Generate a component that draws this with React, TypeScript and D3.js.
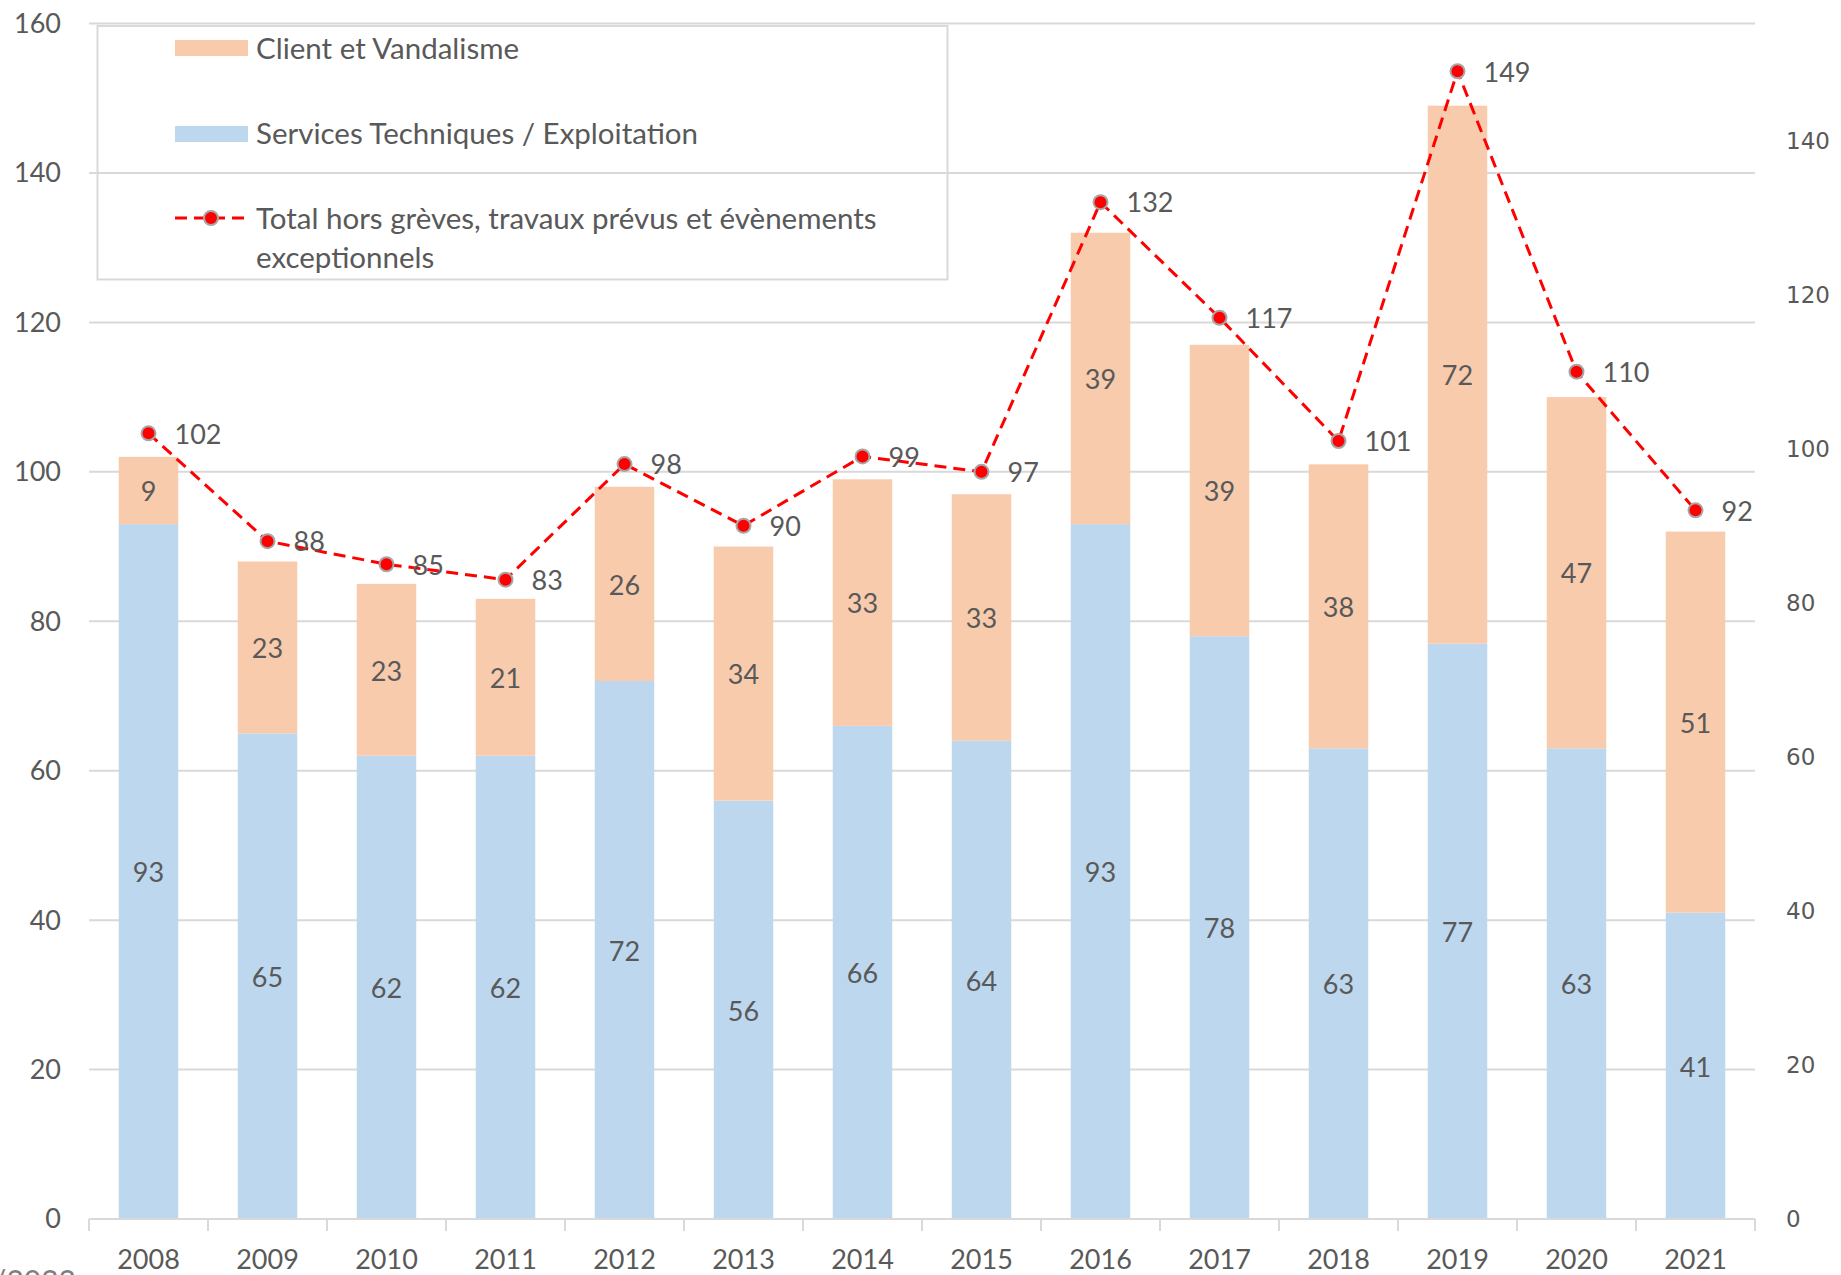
import React from "react";
import * as d3 from "d3";

const years = ["2008","2009","2010","2011","2012","2013","2014","2015","2016","2017","2018","2019","2020","2021"];
const services = [93, 65, 62, 62, 72, 56, 66, 64, 93, 78, 63, 77, 63, 41];
const clients = [9, 23, 23, 21, 26, 34, 33, 33, 39, 39, 38, 72, 47, 51];
const totals = [102, 88, 85, 83, 98, 90, 99, 97, 132, 117, 101, 149, 110, 92];
const leftTicks = [0, 20, 40, 60, 80, 100, 120, 140, 160];
const rightTicks = [0, 20, 40, 60, 80, 100, 120, 140];
const legendLabels = ["Client et Vandalisme", "Services Techniques / Exploitation", "Total hors grèves, travaux prévus et évènements", "exceptionnels"];

const W = 1841, H = 1275;
const X0 = 89, X1 = 1755, YB = 1219, YT = 23.5;
const BLUE = "#BDD7EE", ORANGE = "#F8CBAD", GRID = "#d9d9d9", TXT = "#595959";
const FONT = "Lato, 'Open Sans', sans-serif";
const FS = 27;

export default function App() {
  const x = d3.scaleBand<string>().domain(years).range([X0, X1]).paddingInner(0.5).paddingOuter(0.25);
  const yL = d3.scaleLinear().domain([0, 160]).range([YB, YT]);
  const yR = d3.scaleLinear().domain([0, 155.2]).range([YB, YT]);
  const step = x.step();
  const bw = x.bandwidth();
  const cx = (y: string) => (x(y) as number) + bw / 2;
  const linePts: [number, number][] = years.map((y, i) => [cx(y), yR(totals[i])]);
  const line = d3.line()(linePts) as string;

  return (
    <svg width={W} height={H} style={{ position: "absolute", left: 0, top: 0, background: "#fff" }}>
      <rect x={0} y={0} width={W} height={H} fill="#fff" />
      {leftTicks.filter(t => t > 0).map(t => (
        <line key={"g" + t} x1={X0} x2={X1} y1={yL(t)} y2={yL(t)} stroke={GRID} strokeWidth={2} />
      ))}
      {years.map((y, i) => (
        <g key={"b" + y}>
          <rect x={x(y)} y={yL(services[i])} width={bw} height={yL(0) - yL(services[i])} fill={BLUE} />
          <rect x={x(y)} y={yL(services[i] + clients[i])} width={bw} height={yL(services[i]) - yL(services[i] + clients[i])} fill={ORANGE} />
          <text x={cx(y)} y={yL(services[i] / 2)} dy="0.4em" textAnchor="middle" fontSize={FS} fontFamily={FONT} fill={TXT}>{services[i]}</text>
          <text x={cx(y)} y={yL(services[i] + clients[i] / 2)} dy="0.4em" textAnchor="middle" fontSize={FS} fontFamily={FONT} fill={TXT}>{clients[i]}</text>
        </g>
      ))}
      <line x1={X0} x2={X1} y1={YB} y2={YB} stroke={GRID} strokeWidth={2} />
      {d3.range(years.length + 1).map(i => (
        <line key={"t" + i} x1={X0 + i * step} x2={X0 + i * step} y1={YB} y2={YB + 12} stroke={GRID} strokeWidth={2} />
      ))}
      {years.map(y => (
        <text key={"yl" + y} x={cx(y)} y={1269} textAnchor="middle" fontSize={FS} fontFamily={FONT} fill={TXT}>{y}</text>
      ))}
      {leftTicks.map(t => (
        <text key={"lt" + t} x={61} y={yL(t)} dy="0.35em" textAnchor="end" fontSize={FS} fontFamily={FONT} fill={TXT}>{t}</text>
      ))}
      {rightTicks.map(t => (
        <text key={"rt" + t} x={1786} y={yR(t)} dy="0.35em" textAnchor="start" fontSize={23} fontFamily="'DejaVu Sans', sans-serif" fill={TXT}>{t}</text>
      ))}
      <path d={line} fill="none" stroke="#FF0000" strokeWidth={3} strokeDasharray="12 7" />
      {linePts.map((p, i) => (
        <g key={"m" + i}>
          <circle cx={p[0]} cy={p[1]} r={7} fill="#FF0000" stroke="#a6a6a6" strokeWidth={2} />
          <text x={p[0] + 26} y={p[1]} dy="0.38em" fontSize={FS} fontFamily={FONT} fill={TXT}>{totals[i]}</text>
        </g>
      ))}
      {/* legend */}
      <rect x={97.5} y={26} width={850} height={253.5} fill="none" stroke={GRID} strokeWidth={2} />
      <rect x={175} y={40} width={73} height={16} fill={ORANGE} />
      <text x={256} y={48} dy="0.37em" fontSize={29.5} fontFamily={FONT} fill={TXT}>{legendLabels[0]}</text>
      <rect x={175} y={126} width={73} height={16} fill={BLUE} />
      <text x={256} y={133} dy="0.37em" fontSize={29.5} fontFamily={FONT} fill={TXT}>{legendLabels[1]}</text>
      <line x1={175} x2={248} y1={218} y2={218} stroke="#FF0000" strokeWidth={3} strokeDasharray="12 7" />
      <circle cx={211} cy={218} r={7} fill="#FF0000" stroke="#a6a6a6" strokeWidth={2} />
      <text x={256} y={218} dy="0.37em" fontSize={29.5} fontFamily={FONT} fill={TXT}>{legendLabels[2]}</text>
      <text x={256} y={257} dy="0.37em" fontSize={29.5} fontFamily={FONT} fill={TXT}>{legendLabels[3]}</text>
      <text x={76} y={1292} textAnchor="end" fontSize={30} fontFamily={FONT} fill="#7f7f7f">01/2022</text>
    </svg>
  );
}
